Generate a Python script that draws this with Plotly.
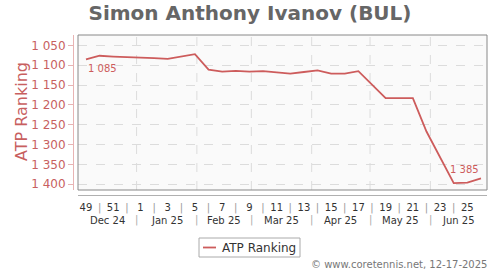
import plotly.graph_objects as go
import pandas as pd

# ---------------- data ----------------
weeks = [49, 50, 51, 52, 1, 2, 3, 4, 5, 6, 7, 8, 9, 10, 11, 12, 13, 14, 15, 16,
         17, 18, 19, 20, 21, 22, 23, 24, 25, 26]
ranking = [1085, 1076, 1078, 1079, 1080, 1082, 1084, 1078, 1072, 1111, 1116, 1114,
           1116, 1115, 1118, 1121, 1117, 1113, 1121, 1121, 1115, 1149, 1183, 1183,
           1183, 1267, 1332, 1397, 1396, 1385]
first_week_date = "2024-12-06"
month_starts = ["2024-12-01", "2025-01-01", "2025-02-01", "2025-03-01",
                "2025-04-01", "2025-05-01", "2025-06-01", "2025-07-01"]
month_labels = ["Dec 24", "Jan 25", "Feb 25", "Mar 25", "Apr 25", "May 25", "Jun 25"]
y_ticks = [1050, 1100, 1150, 1200, 1250, 1300, 1350, 1400]
series_name = "ATP Ranking"
title_text = "Simon Anthony Ivanov (BUL)"
credit_text = "© www.coretennis.net, 12-17-2025"

# ---------------- derived ----------------
dates = pd.date_range(first_week_date, periods=len(weeks), freq="7D")
SEP = "<span style='color:#999'>|</span>"
week_text = [str(w) if w % 2 == 1 else SEP for w in weeks]
week_text[-1] = ""
x_start = dates[0] - pd.Timedelta(days=4.1)
x_end = dates[-1] + pd.Timedelta(days=3.1)

ms = [pd.Timestamp(m) for m in month_starts]
inner_bounds = [m for m in ms if x_start < m < x_end]
centers = []
for i in range(len(month_labels)):
    a = max(ms[i], x_start)
    b = min(ms[i + 1], x_end)
    centers.append(a + (b - a) / 2)

def fmt(v):
    return f"{v:,}".replace(",", " ")

LINE = "#cd5c5c"
AXIS_RED = "#c85f5f"
GRID = "#dcdcdc"
FONT = "DejaVu Sans"

fig = go.Figure()
fig.add_trace(go.Scatter(
    x=dates, y=ranking, mode="lines", name=series_name,
    line=dict(color=LINE, width=1.8), showlegend=False,
))

W, H = 500, 270
ml, mr, mt, mb = 73, 13, 35, 75
pw = W - ml - mr
ph = H - mt - mb

def py(pix):
    """pixel row -> paper y"""
    return (H - mb - pix) / ph

def px(pix):
    """pixel column -> paper x"""
    return (pix - ml) / pw

fig.update_layout(
    width=W, height=H,
    margin=dict(l=ml, r=mr, t=mt, b=mb, pad=0, autoexpand=False),
    paper_bgcolor="white",
    plot_bgcolor="#fafafa",
    font=dict(family=FONT, color="#444"),
    title=dict(text="<b>" + title_text + "</b>", x=0.5, xref="container",
               y=1 - 13 / H, yref="container", xanchor="center", yanchor="middle",
               font=dict(size=20, color="#666", family=FONT)),
    xaxis=dict(
        type="date", domain=[5 / pw, 1], anchor="free", position=0,
        range=[x_start, x_end], automargin=False,
        tickmode="array", tickvals=dates, ticktext=week_text,
        showgrid=False, zeroline=False,
        showline=True, linecolor="#b0b0b0", linewidth=1,
        ticks="", ticklabelstandoff=3,
        tickfont=dict(size=10, color="#333", family=FONT),
    ),
    yaxis=dict(
        domain=[5 / ph, 1], anchor="free", position=0,
        range=[1414.4, 1023.7], automargin=False,
        tickmode="array", tickvals=y_ticks, ticktext=[fmt(v) for v in y_ticks],
        showgrid=True, gridcolor=GRID, griddash="dash", gridwidth=1,
        zeroline=False,
        showline=True, linecolor="#e8b4b4", linewidth=1,
        ticks="outside", ticklen=5, tickcolor="#e8b4b4",
        tickfont=dict(size=12, color=AXIS_RED, family=FONT),
    ),
)

# month gridlines
for b in inner_bounds:
    fig.add_shape(type="line", xref="x", yref="y domain", x0=b, x1=b, y0=0, y1=1,
                  line=dict(color=GRID, width=1, dash="dash"), layer="below")

# month row
for b in inner_bounds:
    fig.add_annotation(text="|", x=b, xref="x", y=py(220), yref="paper",
                       showarrow=False, xanchor="center", yanchor="middle",
                       font=dict(size=10, color="#aaa", family=FONT))
for c, lab in zip(centers, month_labels):
    fig.add_annotation(text=lab, x=c, xref="x", y=py(220), yref="paper",
                       showarrow=False, xanchor="center", yanchor="middle",
                       font=dict(size=10, color="#333", family=FONT))

# plot border
fig.add_shape(type="rect", xref="x domain", yref="y domain", x0=0, x1=1, y0=0, y1=1,
              line=dict(color="#888", width=1), fillcolor="rgba(0,0,0,0)", layer="above")

# y-axis title
fig.add_annotation(text=series_name, textangle=-90, xref="paper", yref="paper",
                   x=px(21), y=py(112), showarrow=False,
                   xanchor="center", yanchor="middle",
                   font=dict(size=16, color=AXIS_RED, family=FONT))

# first / last value labels
fig.add_annotation(text=fmt(ranking[0]), x=dates[0], y=ranking[0], xref="x", yref="y",
                   showarrow=False, xanchor="left", yanchor="middle", yshift=-9,
                   font=dict(size=10, color=LINE, family=FONT))
fig.add_annotation(text=fmt(ranking[-1]), x=dates[-1], y=ranking[-1], xref="x", yref="y",
                   showarrow=False, xanchor="right", yanchor="middle", yshift=9,
                   font=dict(size=10, color=LINE, family=FONT))

# legend (drawn box)
fig.add_shape(type="rect", xref="paper", yref="paper",
              x0=px(199), x1=px(300), y0=py(257), y1=py(238),
              line=dict(color="#aaa", width=1), fillcolor="white")
fig.add_shape(type="line", xref="paper", yref="paper",
              x0=px(203), x1=px(216), y0=py(247.5), y1=py(247.5),
              line=dict(color=LINE, width=1.8))
fig.add_annotation(text=series_name, xref="paper", yref="paper",
                   x=px(220), y=py(247.5), showarrow=False,
                   xanchor="left", yanchor="middle",
                   font=dict(size=12, color="#333", family=FONT))

# credits
fig.add_annotation(text=credit_text, xref="paper", yref="paper",
                   x=px(489), y=py(264), showarrow=False,
                   xanchor="right", yanchor="middle",
                   font=dict(size=10, color="#777", family=FONT))

fig.write_html("out.html")
